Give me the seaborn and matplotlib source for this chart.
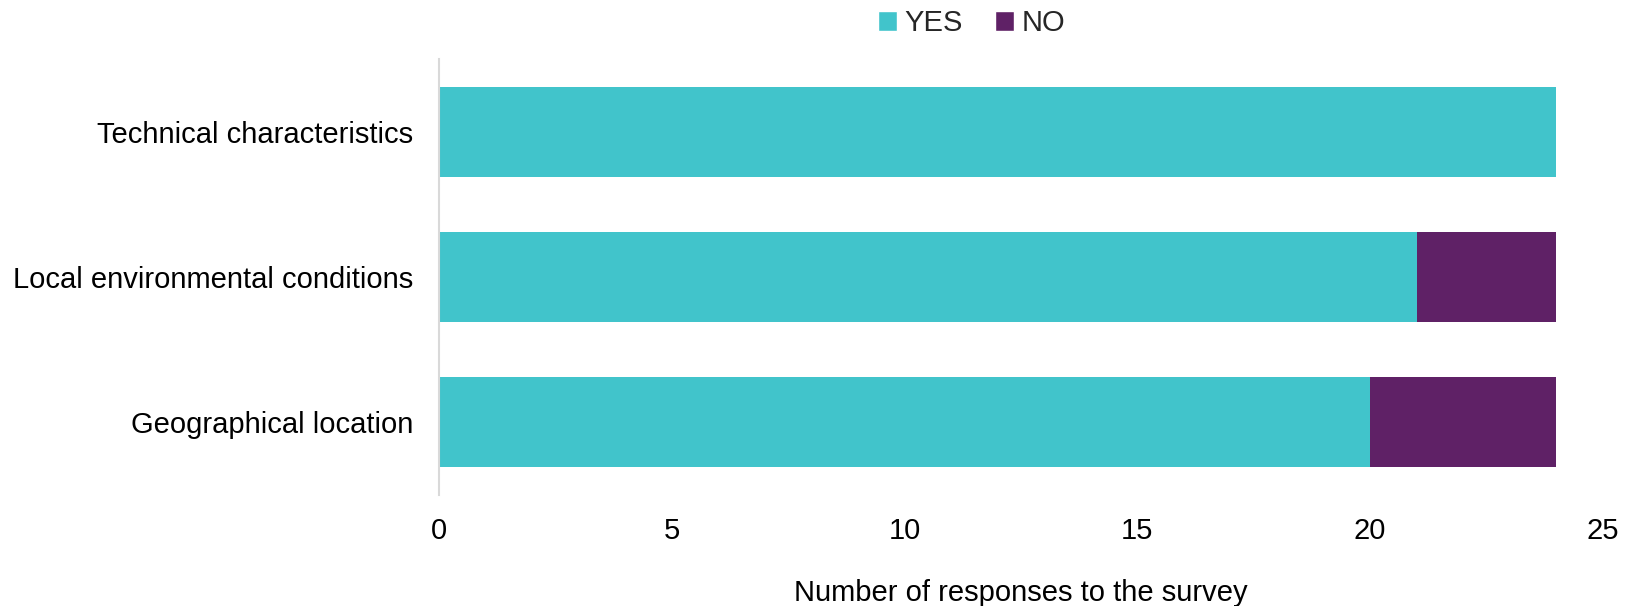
import matplotlib
matplotlib.use("Agg")
import matplotlib.pyplot as plt
import seaborn as sns
import pandas as pd
from matplotlib.patches import Patch

categories = ["Technical characteristics", "Local environmental conditions", "Geographical location"]
yes_values = [24, 21, 20]
no_values = [0, 3, 4]
xticks = [0, 5, 10, 15, 20, 25]

YES_COLOR = "#41C4CB"
NO_COLOR = "#5F2166"

sns.set_theme(style="white")
plt.rcParams['font.family'] = ['Liberation Sans', 'DejaVu Sans']

df = pd.DataFrame({
    "category": categories,
    "YES": yes_values,
    "NO": no_values,
})
df["total"] = df["YES"] + df["NO"]

fig = plt.figure(figsize=(16.30, 6.06), dpi=100)
ax = fig.add_axes([0.2693, 0.1832, 0.9834 - 0.2693, 0.9026 - 0.1832])

sns.barplot(data=df, y="category", x="total", color=NO_COLOR, orient="h",
            width=0.62, ax=ax, saturation=1, linewidth=0)
sns.barplot(data=df, y="category", x="YES", color=YES_COLOR, orient="h",
            width=0.62, ax=ax, saturation=1, linewidth=0)

FS = 21
ax.set_xlim(0, 25)
ax.set_ylim(2.5, -0.5)
ax.set_xticks(xticks)
ax.set_xticklabels([str(t) for t in xticks], fontsize=FS, color="#000000")
ax.tick_params(axis="x", length=0, pad=15.5)
ax.tick_params(axis="y", length=0, pad=18.5, labelsize=FS, labelcolor="#000000")
ax.set_ylabel("")
ax.set_xlabel("Number of responses to the survey", fontsize=FS, labelpad=25, color="#000000")

for s in ["top", "right", "bottom"]:
    ax.spines[s].set_visible(False)
ax.spines["left"].set_color("#D9D9D9")
ax.spines["left"].set_linewidth(1.5)

handles = [Patch(facecolor=YES_COLOR, label="YES"), Patch(facecolor=NO_COLOR, label="NO")]
fig.legend(handles=handles, loc="center", bbox_to_anchor=(0.596, 0.962), ncol=2,
           frameon=False, fontsize=FS, handlelength=0.65, handleheight=0.65,
           handletextpad=0.25, columnspacing=1.1)

fig.savefig("out.png", dpi=100)
